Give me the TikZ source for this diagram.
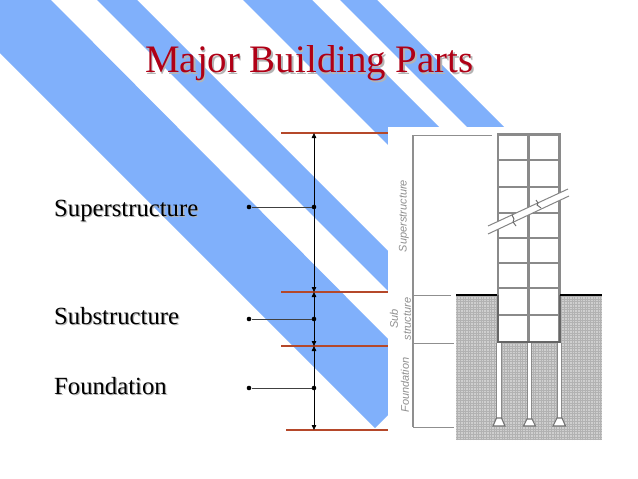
\documentclass[tikz,border=0pt]{standalone}
\usepackage{fontspec}
\setmainfont{Liberation Serif}
\setsansfont{Liberation Sans}
\usetikzlibrary{arrows.meta}
\definecolor{stripe}{HTML}{80B0FB}
\definecolor{redline}{HTML}{B5482A}
\definecolor{titlered}{HTML}{B00016}
\definecolor{shadowgray}{HTML}{B4B4B4}
\definecolor{ground}{HTML}{CFCFCF}
\definecolor{groundline}{HTML}{B2B2B2}
\definecolor{frameg}{HTML}{8A8A8A}
\definecolor{inkg}{HTML}{8F8F8F}
\newcommand{\shadowtext}[3]{\rlap{\kern#3\raisebox{-#3}{\textcolor{shadowgray}{#1}}}\textcolor{#2}{#1}}
\tikzset{
  bandfill/.style={fill=stripe,draw=none},
  redrule/.style={draw=redline,line width=1.3pt},
  dimarrow/.style={draw=black,line width=.8pt,{Triangle[length=5pt,width=4.5pt]}-{Triangle[length=5pt,width=4.5pt]}},
  leader/.style={draw=black!75,line width=.9pt},
  dotnode/.style={circle,fill=black,inner sep=0pt,minimum size=4.6pt},
  label/.style={anchor=base west,inner sep=0pt,font=\fontsize{24.7}{28}\selectfont},
  frameline/.style={draw=frameg,line width=2.2pt},
  floorline/.style={draw=frameg,line width=1.7pt},
  tick/.style={draw=inkg,line width=1pt},
  sidelabel/.style={rotate=90,inner sep=0pt,text=inkg,font=\sffamily\itshape\fontsize{11}{13}\selectfont,align=center},
  footing/.style={fill=white,draw=black!55,line width=1.1pt},
  breakline/.style={draw=black!48,line width=1pt}
}
\begin{document}
\begin{tikzpicture}[x=1pt,y=-1pt]
\useasboundingbox (0,0) rectangle (638,479);
\fill[white] (0,0) rectangle (638,479);
% diagonal bands
\fill[bandfill] (0,0) -- (51,0) -- (388,339) -- (388,415) -- (375,428) -- (0,53) -- cycle;
\fill[bandfill] (97,0) -- (137,0) -- (388,251) -- (388,291) -- cycle;
\fill[bandfill] (243,0) -- (312,0) -- (445,133) -- (388,133) -- (388,145) -- cycle;
\fill[bandfill] (340,0) -- (377,0) -- (510,133) -- (473,133) -- cycle;
% picture panel
\fill[white] (388,127) rectangle (612,446);
% ground
\fill[ground] (456,295) rectangle (602,440);
\draw[step=2.6pt,groundline,line width=.3pt] (456,295) grid (602,440);
% building interior
\fill[white] (497,134) rectangle (560,342);
% frame
\draw[frameline] (498,134.5) rectangle (559.5,342);
\draw[frameline] (528.5,134) -- (528.5,342);
\foreach \y in {160,187,213,238,263,288,315}{
  \draw[floorline] (498,\y) -- (559.5,\y);
}
\draw[draw=black!60,line width=2pt] (498,295) -- (498,342) -- (559.5,342) -- (559.5,295);
% piles
\foreach \x in {499,529.5,559.5}{
  \fill[white] (\x-2.2,343) rectangle (\x+2.2,420);
  \draw[draw=frameg,line width=1.1pt] (\x-2.2,343) -- (\x-2.2,420) (\x+2.2,343) -- (\x+2.2,420);
}
\draw[footing] (493,426) -- (496.5,418) -- (501.5,418) -- (505,426) -- cycle;
\draw[footing] (523.5,426) -- (527,419) -- (532,419) -- (535.5,426) -- cycle;
\draw[footing] (553,426) -- (557,418) -- (562,418) -- (565.5,426) -- cycle;
% ground surface
\draw[black,line width=2.4pt] (456,295) -- (497,295) (560,295) -- (602,295);
% break in building
\fill[white] (488,226) -- (568,189) -- (569,196) -- (488,234) -- cycle;
\draw[breakline] (488,226) -- (568,189);
\draw[breakline] (488,234) -- (569,196);
\draw[draw=black!60,line width=.9pt] (512,215) -- (514,219) -- (513,222) -- (516,226);
\draw[draw=black!60,line width=.9pt] (536,200) -- (538,203) -- (537,205) -- (541,208);
% drawing's dimension lines
\coordinate (pa) at (413,135);
\coordinate (pb) at (413,295);
\coordinate (pc) at (413,343);
\coordinate (pd) at (413,427);
\coordinate (pae) at (492,135);
\coordinate (pbe) at (451,295);
\coordinate (pce) at (454,343);
\coordinate (pde) at (454,427);
\draw[tick,line width=1.2pt] (pa) -- (pd);
\draw[tick] (pa) -- (pae);
\draw[tick] (pb) -- (pbe);
\draw[tick] (pc) -- (pce);
\draw[tick] (pd) -- (pde);
\node[sidelabel] (lsuper) at (404,216) {Superstructure};
\node[sidelabel] (lsub) at (400.5,319) {Sub\\structure};
\node[sidelabel] (lfound) at (405,385) {Foundation};
% red rules
\coordinate (r1a) at (281,133); \coordinate (r1b) at (388,133);
\coordinate (r2a) at (281,292); \coordinate (r2b) at (388,292);
\coordinate (r3a) at (281,346); \coordinate (r3b) at (388,346);
\coordinate (r4a) at (286,430); \coordinate (r4b) at (388,430);
\draw[redrule] (r1a) -- (r1b);
\draw[redrule] (r2a) -- (r2b);
\draw[redrule] (r3a) -- (r3b);
\draw[redrule] (r4a) -- (r4b);
% dimension arrows
\coordinate (v1) at (314,133);
\coordinate (v2) at (314,292);
\coordinate (v3) at (314,346);
\coordinate (v4) at (314,430);
\draw[dimarrow] (v1) -- (v2);
\draw[dimarrow] (v2) -- (v3);
\draw[dimarrow] (v3) -- (v4);
% leaders
\node[dotnode] (d1a) at (249,207) {};
\node[dotnode] (d1b) at (314,207) {};
\node[dotnode] (d2a) at (249,319) {};
\node[dotnode] (d2b) at (314,319) {};
\node[dotnode] (d3a) at (249,388) {};
\node[dotnode] (d3b) at (314,388) {};
\draw[leader] (d1a) -- (d1b);
\draw[leader] (d2a) -- (d2b);
\draw[leader] (d3a) -- (d3b);
% texts
\node[anchor=base west,inner sep=0pt,font=\fontsize{38.9}{44}\selectfont] (title) at (145,72.5) {\shadowtext{Major Building Parts}{titlered}{1.5pt}};
\node[label] (t1) at (54,216) {\shadowtext{Superstructure}{black}{1.2pt}};
\node[label] (t2) at (54,324) {\shadowtext{Substructure}{black}{1.2pt}};
\node[label] (t3) at (54,394) {\shadowtext{Foundation}{black}{1.2pt}};
\end{tikzpicture}
\end{document}
